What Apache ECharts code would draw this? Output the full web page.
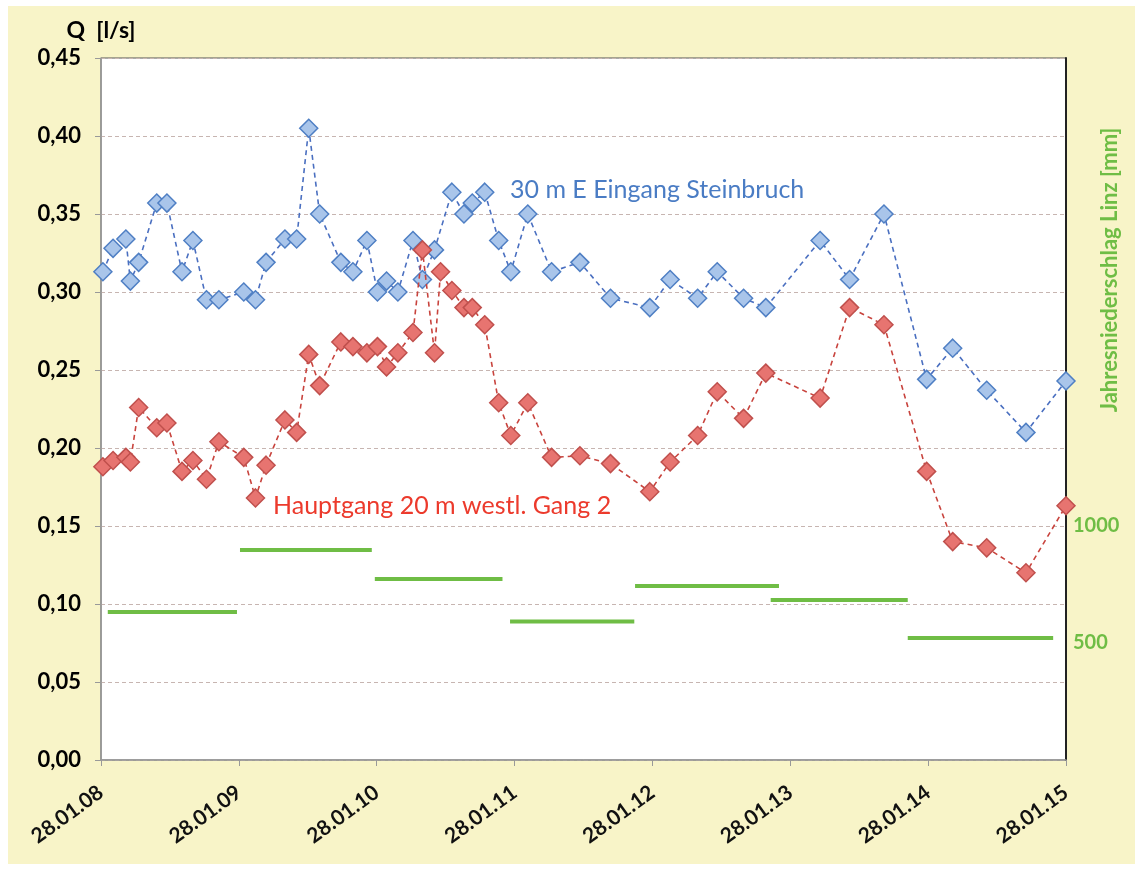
<!DOCTYPE html>
<html lang="de">
<head>
    <meta charset="UTF-8">
    <title>Schüttung Q</title>
    <script src="https://cdn.jsdelivr.net/npm/echarts@6/dist/echarts.min.js"></script>
    <style>
        body { margin: 0; background: #ffffff; }
        #frame { position: absolute; left: 8px; top: 6px; width: 1127px; height: 858px; background: #f8f4c8; }
        #myChart { position: absolute; left: 0; top: 0; width: 1141px; height: 870px; }
    </style>
</head>
<body>
<div id="frame"></div>
<div id="myChart"></div>
<script>
    // Messdaten
    var dates = [
        '2008-02-02', '2008-02-29', '2008-04-03', '2008-04-15', '2008-05-07', '2008-06-24', '2008-07-21',
        '2008-08-30', '2008-09-28', '2008-11-03', '2008-12-06',
        '2009-02-10', '2009-03-13', '2009-04-10', '2009-05-30', '2009-06-30', '2009-08-01', '2009-08-30',
        '2009-10-25', '2009-11-26',
        '2010-01-02', '2010-01-30', '2010-02-23', '2010-03-25', '2010-05-04', '2010-05-29', '2010-06-30',
        '2010-07-16', '2010-08-15', '2010-09-16', '2010-10-08', '2010-11-10', '2010-12-17',
        '2011-01-18', '2011-03-04', '2011-05-06', '2011-07-20', '2011-10-09',
        '2012-01-21', '2012-03-15', '2012-05-27', '2012-07-18', '2012-09-26', '2012-11-24',
        '2013-04-17', '2013-07-04', '2013-10-03',
        '2014-01-24', '2014-04-03', '2014-07-02', '2014-10-14', '2015-01-28'
    ];
    var steinbruch = [
        0.313, 0.328, 0.334, 0.307, 0.319, 0.357, 0.357, 0.313, 0.333, 0.295, 0.295,
        0.300, 0.295, 0.319, 0.334, 0.334, 0.405, 0.350, 0.319, 0.313,
        0.333, 0.300, 0.307, 0.300, 0.333, 0.308, 0.327, null, 0.364, 0.350, 0.357, 0.364, 0.333,
        0.313, 0.350, 0.313, 0.319, 0.296,
        0.290, 0.308, 0.296, 0.313, 0.296, 0.290,
        0.333, 0.308, 0.350,
        0.244, 0.264, 0.237, 0.210, 0.243
    ];
    var hauptgang = [
        0.188, 0.192, 0.194, 0.191, 0.226, 0.213, 0.216, 0.185, 0.192, 0.180, 0.204,
        0.194, 0.168, 0.189, 0.218, 0.210, 0.260, 0.240, 0.268, 0.265,
        0.261, 0.265, 0.252, 0.261, 0.274, 0.327, 0.261, 0.313, 0.301, 0.290, 0.290, 0.279, 0.229,
        0.208, 0.229, 0.194, 0.195, 0.190,
        0.172, 0.191, 0.208, 0.236, 0.219, 0.248,
        0.232, 0.290, 0.279,
        0.185, 0.140, 0.136, 0.120, 0.163
    ];
    // Jahresniederschlag Linz [mm]
    var regenVon = ['2008-02-15', '2009-01-31', '2010-01-23', '2011-01-16', '2011-12-13', '2012-12-07', '2013-12-05'];
    var regenBis = ['2009-01-23', '2010-01-15', '2010-12-27', '2011-12-11', '2012-12-29', '2013-12-05', '2014-12-25'];
    var regen = [633, 897, 774, 592, 744, 684, 521];

    // Position in Jahren ab 28.01.08 (jeder 28.01. = ganze Zahl)
    function jahre(s) {
        var t = Date.parse(s);
        var k = 0;
        while (Date.UTC(2009 + k, 0, 28) <= t && k < 7) k++;
        var a = Date.UTC(2008 + k, 0, 28), b = Date.UTC(2009 + k, 0, 28);
        return k + (t - a) / (b - a);
    }

    function punkte(werte) {
        var out = [];
        for (let i = 0; i < dates.length; i++) {
            out.push([jahre(dates[i]), werte[i]]);
        }
        return out;
    }

    var gruen = '#6fbd45';
    var schrift = 'Lato, "Open Sans", sans-serif';

    var series = [
        {
            name: '30 m E Eingang Steinbruch',
            type: 'line',
            data: punkte(steinbruch),
            connectNulls: true,
            symbol: 'diamond',
            symbolSize: 18,
            clip: false,
            lineStyle: { color: '#4a6fc0', width: 1.6, type: [5, 4] },
            itemStyle: { color: '#a9c5ea', borderColor: '#4f7fc4', borderWidth: 1.5 },
            z: 3
        },
        {
            name: 'Hauptgang 20 m westl. Gang 2',
            type: 'line',
            data: punkte(hauptgang),
            symbol: 'diamond',
            symbolSize: 18,
            clip: false,
            lineStyle: { color: '#c8433d', width: 1.6, type: [5, 4] },
            itemStyle: { color: '#e77470', borderColor: '#c0504d', borderWidth: 1.5 },
            z: 4
        }
    ];
    for (let i = 0; i < regen.length; i++) {
        series.push({
            type: 'line',
            yAxisIndex: 1,
            symbol: 'none',
            silent: true,
            lineStyle: { color: gruen, width: 4 },
            data: [[jahre(regenVon[i]), regen[i]], [jahre(regenBis[i]), regen[i]]],
            z: 2
        });
    }

    var chart = echarts.init(document.getElementById('myChart'));
    chart.setOption({
        backgroundColor: 'transparent',
        textStyle: { fontFamily: schrift },
        grid: {
            left: 101, right: 75, top: 58, bottom: 110,
            show: true, backgroundColor: '#ffffff', borderColor: '#555', borderWidth: 1
        },
        xAxis: {
            type: 'value',
            min: 0, max: 7, interval: 1,
            axisLine: { show: true, lineStyle: { color: '#999', width: 1.5 } },
            axisTick: { show: true, length: 6, lineStyle: { color: '#999' } },
            splitLine: { show: false },
            axisLabel: {
                rotate: 36, margin: 30, color: '#111', fontSize: 21, fontWeight: 'bold', fontFamily: schrift,
                formatter: function (v) { return '28.01.' + String(8 + v).padStart(2, '0'); }
            }
        },
        yAxis: [
            {
                type: 'value',
                min: 0, max: 0.45, interval: 0.05,
                name: 'Q  [l/s]',
                nameLocation: 'end',
                nameGap: 16,
                nameTextStyle: { color: '#000', fontSize: 23, fontWeight: 'bold', fontFamily: schrift, align: 'center' },
                axisLine: { show: true, lineStyle: { color: '#999', width: 1.5 } },
                axisTick: { show: true, length: 6, lineStyle: { color: '#999' } },
                splitLine: { show: true, lineStyle: { color: '#c7b5b1', type: [4, 3], width: 1 } },
                axisLabel: {
                    margin: 20, color: '#000', fontSize: 22, fontWeight: 'bold', fontFamily: schrift,
                    formatter: function (v) { return v.toFixed(2).replace('.', ','); }
                }
            },
            {
                type: 'value',
                position: 'right',
                min: 0, max: 3000, interval: 500,
                axisLine: { show: true, lineStyle: { color: '#222', width: 2 } },
                axisTick: { show: false },
                splitLine: { show: false },
                axisLabel: {
                    margin: 7, color: gruen, fontSize: 20, fontWeight: 'bold', fontFamily: schrift,
                    formatter: function (v) { return (v === 500 || v === 1000) ? String(v) : ''; }
                }
            }
        ],
        graphic: [
            {
                type: 'text', x: 1110, y: 270, rotation: Math.PI / 2,
                style: {
                    text: 'Jahresniederschlag Linz [mm]', fill: gruen, align: 'center', verticalAlign: 'middle',
                    font: 'bold 22px ' + schrift
                }
            },
            {
                type: 'text', left: 510, top: 177,
                style: { text: '30 m E Eingang Steinbruch', fill: '#4a7cc4', font: '25px ' + schrift }
            },
            {
                type: 'text', left: 273, top: 493,
                style: { text: 'Hauptgang 20 m westl. Gang 2', fill: '#ec3a2c', font: '25px ' + schrift }
            }
        ],
        series: series
    });
</script>
</body>
</html>
